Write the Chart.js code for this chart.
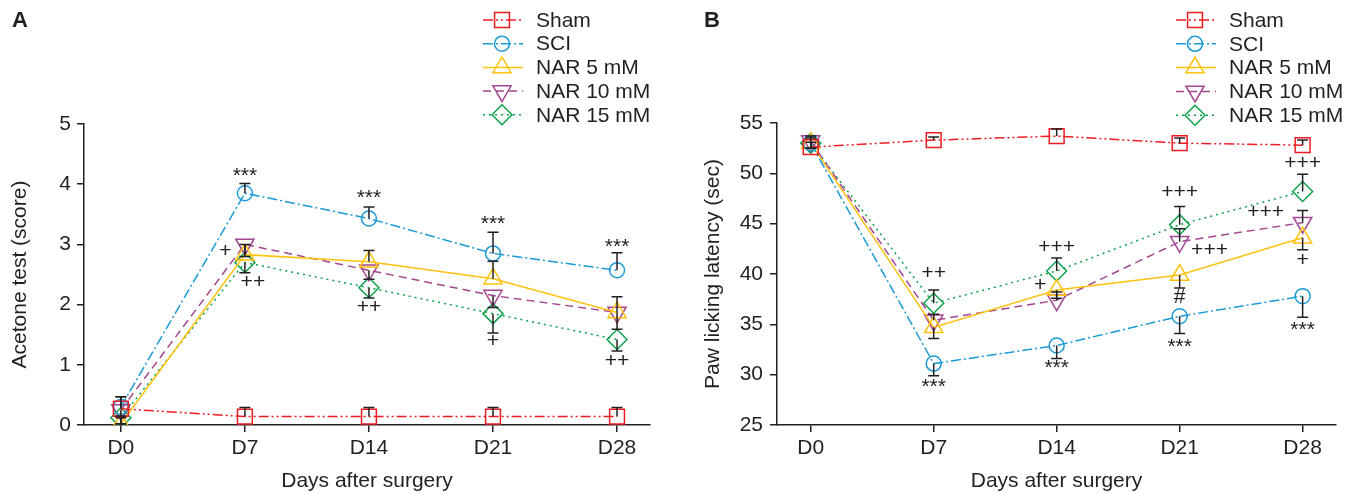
<!DOCTYPE html>
<html>
<head>
<meta charset="utf-8">
<script src="https://cdn.jsdelivr.net/npm/chart.js@4.4.0/dist/chart.umd.min.js"></script>
<style>
  body { margin: 0; background: #fff; }
  #wrap { position: relative; width: 1348px; height: 494px; }
  canvas { position: absolute; top: 0; }
</style>
</head>
<body>
<div id="wrap">
  <canvas id="chartA" width="674" height="494" style="left:0"></canvas>
  <canvas id="chartB" width="674" height="494" style="left:674px"></canvas>
</div>
<script>
// categories
const days = [0, 7, 14, 21, 28];
const dayLabels = ['D0', 'D7', 'D14', 'D21', 'D28'];
const seriesNames = ['Sham', 'SCI', 'NAR 5 mM', 'NAR 10 mM', 'NAR 15 mM'];

// panel A - acetone test (score)
const shamA  = [0.27, 0.14, 0.14, 0.14, 0.14];
const sciA   = [0.30, 3.85, 3.43, 2.85, 2.57];
const nar5A  = [0.02, 2.83, 2.71, 2.43, 1.87];
const nar10A = [0.25, 3.00, 2.57, 2.15, 1.87];
const nar15A = [0.12, 2.70, 2.28, 1.85, 1.42];
const shamErrA  = [0.20, 0.15, 0.15, 0.15, 0.15];
const sciErrA   = [0.17, 0.16, 0.19, 0.35, 0.29];
const nar5ErrA  = [0.10, 0.17, 0.19, 0.29, 0.26];
const nar10ErrA = [0.10, 0.20, 0.15, 0.20, 0.28];
const nar15ErrA = [0.10, 0.17, 0.17, 0.32, 0.19];
const yTicksA = [0, 1, 2, 3, 4, 5];
const marksA = [
  { day: 7, value: 4.2, text: '***' },
  { day: 14, value: 3.84, text: '***' },
  { day: 21, value: 3.41, text: '***' },
  { day: 28, value: 3.02, text: '***' },
  { day: 5.9, value: 2.88, text: '+' },
  { day: 7.45, value: 2.37, text: '++' },
  { day: 14, value: 1.96, text: '++' },
  { day: 21, value: 1.39, text: '+' },
  { day: 28, value: 1.06, text: '++' }
];

// panel B - paw licking latency (sec)
const shamB  = [52.6, 53.3, 53.7, 53.0, 52.8];
const sciB   = [53.0, 31.1, 32.9, 35.8, 37.8];
const nar5B  = [53.0, 34.7, 38.4, 39.9, 43.6];
const nar10B = [53.2, 35.4, 37.4, 43.2, 45.1];
const nar15B = [53.0, 37.1, 40.3, 44.9, 48.2];
const shamErrB  = [0.5, 0.3, 0.7, 0.5, 0.5];
const sciErrB   = [0.5, 1.2, 1.3, 1.7, 2.1];
const nar5ErrB  = [0.5, 1.1, 0.8, 1.3, 1.2];
const nar10ErrB = [0.5, 0.6, 0.8, 1.3, 1.2];
const nar15ErrB = [0.5, 1.3, 1.3, 1.8, 1.7];
const yTicksB = [25, 30, 35, 40, 45, 50, 55];
const marksB = [
  { day: 7, value: 29.2, text: '***' },
  { day: 14, value: 31.0, text: '***' },
  { day: 21, value: 33.1, text: '***' },
  { day: 28, value: 34.8, text: '***' },
  { day: 7, value: 40.1, text: '++' },
  { day: 14, value: 42.65, text: '+++' },
  { day: 13.06, value: 38.9, text: '+' },
  { day: 21, value: 48.16, text: '+++' },
  { day: 22.7, value: 42.4, text: '+++' },
  { day: 21, value: 37.7, text: '#' },
  { day: 28, value: 51.0, text: '+++' },
  { day: 25.9, value: 46.1, text: '+++' },
  { day: 28, value: 41.4, text: '+' }
];

const INK = '#231f20';
const FAMILY = "'Liberation Sans', Arial, sans-serif";
const styles = [
  { color: '#ed1c24', dash: [10, 3, 2, 3, 2, 3], shape: 'rect', rot: 0, r: 10.5 },
  { color: '#1b9ad6', dash: [10, 3, 2, 3], shape: 'circle', rot: 0, r: 7.5 },
  { color: '#ffc20e', dash: [], shape: 'triangle', rot: 0, r: 10.5 },
  { color: '#a3468f', dash: [8, 5], shape: 'triangle', rot: 180, r: 10.5 },
  { color: '#0da24b', dash: [2, 4], shape: 'rectRot', rot: 0, r: 10 }
];

const errorBars = {
  id: 'errorBars',
  afterDatasetsDraw(chart) {
    const { ctx, scales: { x, y } } = chart;
    ctx.save();
    ctx.strokeStyle = INK;
    ctx.lineWidth = 1.5;
    chart.data.datasets.forEach(ds => {
      ds.data.forEach((p, j) => {
        const e = ds.err[j];
        const px = x.getPixelForValue(p.x);
        const hi = ds.errSide === 'down' ? p.y : p.y + e;
        const lo = ds.errSide === 'up' ? p.y : p.y - e;
        const y1 = y.getPixelForValue(hi), y2 = y.getPixelForValue(lo);
        ctx.beginPath();
        ctx.moveTo(px, y1); ctx.lineTo(px, y2);
        if (ds.errSide !== 'down') { ctx.moveTo(px - 5.5, y1); ctx.lineTo(px + 5.5, y1); }
        if (ds.errSide !== 'up') { ctx.moveTo(px - 5.5, y2); ctx.lineTo(px + 5.5, y2); }
        ctx.stroke();
      });
    });
    ctx.restore();
  }
};

const marksPlugin = {
  id: 'marks',
  afterDraw(chart, args, opts) {
    const { ctx, scales: { x, y } } = chart;
    ctx.save();
    ctx.fillStyle = INK;
    ctx.textAlign = 'center';
    ctx.textBaseline = 'middle';
    ctx.font = '21px ' + FAMILY;
    opts.items.forEach(m => {
      // asterisks sit high in the em box, push them down a little
      const dy = m.text === '***' ? 4 : 0;
      ctx.fillText(m.text, x.getPixelForValue(m.day), y.getPixelForValue(m.value) + dy);
    });
    // panel letter
    ctx.font = 'bold 22px ' + FAMILY;
    ctx.textAlign = 'left';
    ctx.fillText(opts.letter, opts.letterX, 21);
    ctx.restore();
  }
};

const legendBox = {
  id: 'legendBox',
  afterDraw(chart, args, opts) {
    const ctx = chart.ctx;
    chart.data.datasets.forEach((ds, i) => {
      const yy = opts.y0 + i * opts.dy;
      ctx.save();
      ctx.strokeStyle = ds.borderColor;
      ctx.lineWidth = 1.5;
      ctx.setLineDash(ds.borderDash);
      ctx.beginPath();
      ctx.moveTo(opts.x0, yy); ctx.lineTo(opts.x0 + 40, yy);
      ctx.stroke();
      ctx.setLineDash([]);
      ctx.fillStyle = 'rgba(0,0,0,0)';
      Chart.helpers.drawPoint(ctx, {
        pointStyle: ds.pointStyle, rotation: ds.pointRotation,
        radius: ds.pointRadius, borderWidth: 1.5
      }, opts.x0 + 19, yy);
      ctx.fillStyle = INK;
      ctx.font = '21px ' + FAMILY;
      ctx.textBaseline = 'middle';
      ctx.fillText(ds.label, opts.x0 + 53, yy + 1);
      ctx.restore();
    });
  }
};

function makeChart(id, cfg) {
  const datasets = cfg.values.map((vals, i) => ({
    label: seriesNames[i],
    data: vals.map((v, j) => ({ x: days[j], y: v })),
    err: cfg.errs[i],
    errSide: cfg.sides[i],
    borderColor: styles[i].color,
    borderDash: styles[i].dash,
    borderWidth: 1.5,
    pointStyle: styles[i].shape,
    pointRotation: styles[i].rot,
    pointRadius: styles[i].r,
    pointBorderColor: styles[i].color,
    pointBackgroundColor: 'rgba(0,0,0,0)',
    pointBorderWidth: 1.5,
    tension: 0,
    fill: false
  }));
  const textFont = { family: FAMILY, size: 21 };
  return new Chart(document.getElementById(id), {
    type: 'line',
    data: { datasets },
    plugins: [errorBars, marksPlugin, legendBox],
    options: {
      responsive: false,
      animation: false,
      layout: { padding: { left: 0, right: cfg.padRight, top: cfg.padTop, bottom: 0 } },
      plugins: {
        legend: { display: false },
        tooltip: { enabled: false },
        marks: { items: cfg.marks, letter: cfg.letter, letterX: cfg.letterX },
        legendBox: cfg.legend
      },
      scales: {
        x: {
          type: 'linear', min: cfg.xMin, max: cfg.xMax,
          afterBuildTicks: s => { s.ticks = days.map(d => ({ value: d })); },
          afterFit: s => { s.height = 69; },
          ticks: {
            callback: v => dayLabels[days.indexOf(v)],
            font: textFont, color: INK, padding: 4, autoSkip: false, maxRotation: 0
          },
          grid: { display: true, drawOnChartArea: false, drawTicks: true, tickLength: 7, color: INK, lineWidth: 1.5 },
          border: { display: true, color: INK, width: 1.5 },
          title: { display: true, text: 'Days after surgery', font: textFont, color: INK, padding: { top: 0, bottom: 0 } }
        },
        y: {
          min: cfg.yTicks[0], max: cfg.yTicks[cfg.yTicks.length - 1],
          afterBuildTicks: s => { s.ticks = cfg.yTicks.map(v => ({ value: v })); },
          afterFit: s => { s.width = cfg.yWidth; },
          ticks: { font: textFont, color: INK, padding: cfg.yTickPad },
          grid: { display: true, drawOnChartArea: false, drawTicks: true, tickLength: 7, color: INK, lineWidth: 1.5 },
          border: { display: true, color: INK, width: 1.5 },
          title: { display: true, text: cfg.yTitle, font: textFont, color: INK, padding: { top: cfg.yTitlePad, bottom: 0 } }
        }
      }
    }
  });
}

makeChart('chartA', {
  values: [shamA, sciA, nar5A, nar10A, nar15A],
  errs: [shamErrA, sciErrA, nar5ErrA, nar10ErrA, nar15ErrA],
  sides: ['up', 'up', 'up', 'down', 'down'],
  yTicks: yTicksA, yTitle: 'Acetone test (score)', yTitlePad: 8, yWidth: 84, yTickPad: 6,
  xMin: -2.08, xMax: 29.86, padRight: 24, padTop: 124,
  marks: marksA, letter: 'A', letterX: 12,
  legend: { x0: 483, y0: 20, dy: 23.7 }
});

makeChart('chartB', {
  values: [shamB, sciB, nar5B, nar10B, nar15B],
  errs: [shamErrB, sciErrB, nar5ErrB, nar10ErrB, nar15ErrB],
  sides: ['up', 'down', 'down', 'up', 'up'],
  yTicks: yTicksB, yTitle: 'Paw licking latency (sec)', yTitlePad: 27, yWidth: 103, yTickPad: 7,
  xMin: -1.92, xMax: 29.9, padRight: 6, padTop: 123,
  marks: marksB, letter: 'B', letterX: 30,
  legend: { x0: 502, y0: 20, dy: 23.8 }
});
</script>
</body>
</html>
